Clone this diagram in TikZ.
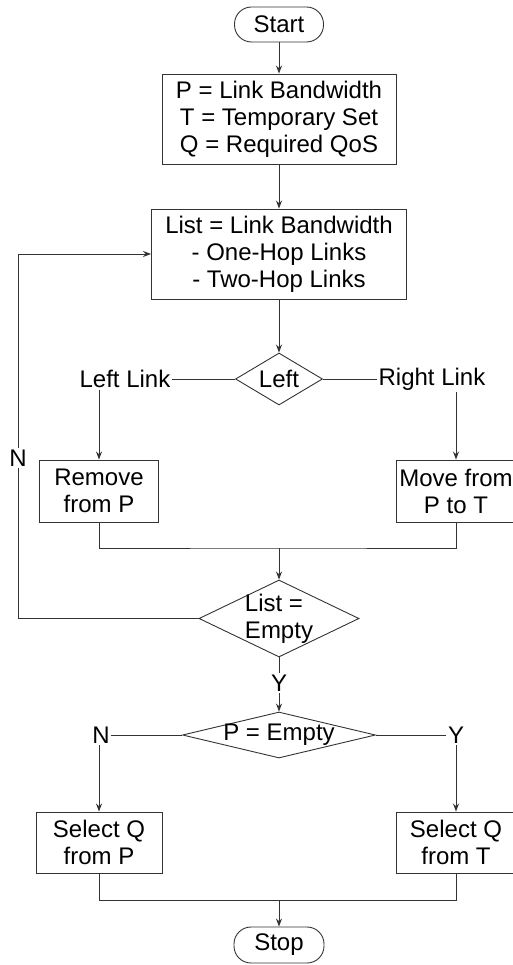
\documentclass[tikz,border=0pt]{standalone}
\usepackage{fontspec}
\setmainfont{Liberation Sans}
\usetikzlibrary{shapes.geometric,arrows.meta}

\begin{document}
\begin{tikzpicture}[x=1pt, y=-1pt,
  every node/.style={font=\fontsize{24}{27}\selectfont, text=black},
  proc/.style={draw=black!80, line width=0.9pt, inner sep=0pt, align=center},
  term/.style={draw=black!80, line width=0.9pt, rounded corners=17pt, inner sep=0pt, minimum width=89pt, minimum height=35pt},
  decide/.style={draw=black!80, diamond, line width=0.9pt, inner sep=-6pt, align=left},
  lbl/.style={inner sep=1.5pt},
  flow/.style={draw=black!80, line width=0.9pt},
  arr/.style={flow, -{Stealth[length=8pt,width=6pt]}}]
  \useasboundingbox (0,0) rectangle (513,965);
  % nodes
  \node[term] (start) at (279,24.5) {Start};
  \node[proc, minimum width=234pt, minimum height=90pt] (init) at (279,119) {P = Link Bandwidth\\T = Temporary Set\\Q = Required QoS};
  \node[proc, minimum width=255pt, minimum height=90pt] (list) at (279,254) {List = Link Bandwidth\\- One-Hop Links\\- Two-Hop Links};
  \node[decide, aspect=1.67, minimum width=87pt, minimum height=52pt] (side) at (279,379) {Left};
  \node[lbl] (leftlink) at (125,379) {Left Link};
  \node[lbl] (rightlink) at (432,379) {Right Link};
  \node[proc, minimum width=119pt, minimum height=62pt] (remove) at (99,491) {Remove\\from P};
  \node[proc, minimum width=120pt, minimum height=62pt] (move) at (456,491) {Move from\\P to T};
  \node[decide, aspect=2.08, minimum width=160pt, minimum height=77pt] (isempty) at (279,618.5) {List =\\Empty};
  \node[lbl] (no1) at (18,458) {N};
  \node[lbl] (yes1) at (279,683) {Y};
  \node[decide, aspect=4.2, minimum width=193pt, minimum height=46pt] (pempty) at (279,735) {P = Empty};
  \node[lbl] (no2) at (101,735) {N};
  \node[lbl] (yes2) at (456,735) {Y};
  \node[proc, minimum width=126pt, minimum height=61pt] (fromp) at (99,842.5) {Select Q\\from P};
  \node[proc, minimum width=120pt, minimum height=61pt] (fromt) at (456,842.5) {Select Q\\from T};
  \node[term, minimum width=90pt, minimum height=36pt] (stop) at (279,945) {Stop};
  \coordinate (join1) at (279,548);
  \coordinate (join2) at (279,900);
  % connectors
  \draw[arr] (start) -- (init);
  \draw[arr] (init) -- (list);
  \draw[arr] (list) -- (side);
  \draw[flow] (leftlink) -- (side);
  \draw[flow] (side) -- (rightlink);
  \draw[arr] (leftlink.south -| remove.north) -- (remove);
  \draw[arr] (rightlink.south -| move.north) -- (move);
  \draw[flow] (remove) |- (join1) -| (move);
  \draw[arr] (join1) -- (isempty);
  \draw[flow] (isempty.west) -| (no1);
  \draw[arr] (no1) |- (list.west);
  \draw[flow] (isempty) -- (yes1);
  \draw[arr] (yes1) -- (pempty);
  \draw[flow] (no2) -- (pempty);
  \draw[flow] (pempty) -- (yes2);
  \draw[arr] (no2.south -| fromp.north) -- (fromp);
  \draw[arr] (yes2.south -| fromt.north) -- (fromt);
  \draw[flow] (fromp) |- (join2) -| (fromt);
  \draw[arr] (join2) -- (stop);
\end{tikzpicture}
\end{document}
